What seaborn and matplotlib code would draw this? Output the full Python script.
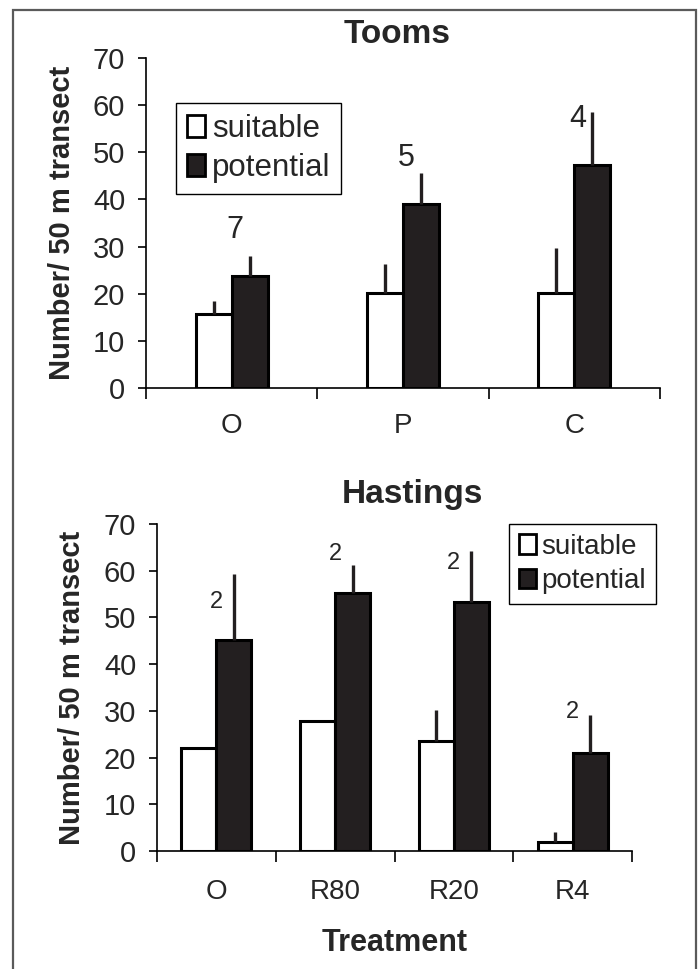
import matplotlib
matplotlib.use("Agg")
import matplotlib.pyplot as plt
import matplotlib.patches as mpatches
import seaborn as sns
import pandas as pd
import numpy as np

# ---- data ----
series = ["suitable", "potential"]

tooms_cats = ["O", "P", "C"]
tooms_suitable = [15.8, 20.1, 20.1]
tooms_suitable_err = [2.6, 6.3, 9.7]
tooms_potential = [23.7, 39.0, 47.4]
tooms_potential_err = [4.4, 6.6, 11.1]
tooms_n = ["7", "5", "4"]
tooms_n_y = [33.5, 48.8, 57.0]

hast_cats = ["O", "R80", "R20", "R4"]
hast_suitable = [22.0, 27.9, 23.6, 1.9]
hast_suitable_err = [0.0, 0.0, 6.6, 2.2]
hast_potential = [45.2, 55.2, 53.2, 21.0]
hast_potential_err = [14.0, 6.0, 11.0, 8.1]
hast_n = ["2", "2", "2", "2"]
hast_n_y = [53.3, 63.5, 61.6, 29.7]

yticks = [0, 10, 20, 30, 40, 50, 60, 70]
ylabel = "Number/ 50 m transect"
DARK = "#231f20"

sns.set_style("white")
plt.rcParams["font.family"] = ["Liberation Sans", "DejaVu Sans"]

fig = plt.figure(figsize=(7.0, 9.69), dpi=100)

# border
fig.patches.append(mpatches.Rectangle((13 / 700, -0.02), (696 - 13) / 700, 1.02 - 10 / 969,
                                      transform=fig.transFigure, fill=False,
                                      edgecolor="#5a5a5a", linewidth=1.6))


def panel(ax, cats, s, s_err, p, p_err, nlab, nly, nx_off, width, nsize, title, title_xy,
          leg_loc, leg_anchor, leg_size, ylab_x, xpad, xlab=None):
    df = pd.DataFrame({
        "cat": cats * 2,
        "series": [series[0]] * len(cats) + [series[1]] * len(cats),
        "val": s + p,
    })
    sns.barplot(data=df, x="cat", y="val", hue="series", order=cats, hue_order=series,
                palette={"suitable": "white", "potential": DARK}, edgecolor="black",
                linewidth=2.2, width=width, errorbar=None, saturation=1, ax=ax,
                legend=False)
    errs = [s_err, p_err]
    vals = [s, p]
    for k, cont in enumerate(ax.containers):
        for i, bar in enumerate(cont):
            if errs[k][i] > 0:
                xc = bar.get_x() + bar.get_width() / 2
                ax.vlines(xc, vals[k][i], vals[k][i] + errs[k][i], color=DARK,
                          linewidth=2.4, zorder=1)
    for i, t in enumerate(nlab):
        ax.text(i + nx_off, nly[i], t, ha="center", va="center", fontsize=nsize)
    ax.set_ylim(0, 70)
    ax.set_yticks(yticks)
    ax.set_xlim(-0.5, len(cats) - 0.5)
    ax.set_xticks(range(len(cats)))
    ax.set_xticklabels(cats)
    ax.set_xticks(np.arange(-0.5, len(cats), 1.0), minor=True)
    ax.tick_params(axis="x", which="major", length=0, labelsize=20, pad=xpad)
    ax.tick_params(axis="x", which="minor", length=8, width=1.2, direction="out",
                   bottom=True, color="black")
    ax.tick_params(axis="y", length=6, width=1.2, direction="out", left=True,
                   labelsize=21, pad=9, color="black")
    for sp in ["top", "right"]:
        ax.spines[sp].set_visible(False)
    for sp in ["left", "bottom"]:
        ax.spines[sp].set_color("black")
        ax.spines[sp].set_linewidth(1.2)
    ax.set_ylabel(ylabel, fontsize=21, fontweight="bold")
    ax.yaxis.set_label_coords(ylab_x, 0.5)
    if xlab:
        ax.set_xlabel(xlab, fontsize=22, fontweight="bold")
        ax.xaxis.set_label_coords(0.5, -0.235)
    else:
        ax.set_xlabel("")
    ax.text(title_xy[0], title_xy[1], title, transform=ax.transAxes, ha="center",
            va="center", fontsize=24, fontweight="bold")
    handles = [mpatches.Patch(facecolor="white", edgecolor="black", linewidth=2),
               mpatches.Patch(facecolor=DARK, edgecolor="black", linewidth=2)]
    leg = ax.legend(handles, series, loc=leg_loc, bbox_to_anchor=leg_anchor,
                    borderaxespad=0, frameon=True, fancybox=False, framealpha=1,
                    edgecolor="black", fontsize=leg_size, handlelength=0.6,
                    handleheight=0.7, handletextpad=0.2, borderpad=0.35,
                    labelspacing=0.3)
    leg.get_frame().set_linewidth(1.0)


ax1 = fig.add_axes([146 / 700, 1 - 388 / 969, (660 - 146) / 700, (388 - 58) / 969])
panel(ax1, tooms_cats, tooms_suitable, tooms_suitable_err, tooms_potential,
      tooms_potential_err, tooms_n, tooms_n_y, 0.02, 0.42, 22, "Tooms", (0.488, 1.07),
      "upper left", (0.058, 0.864), 22.5, -0.136, 18)

ax2 = fig.add_axes([157 / 700, 1 - 851 / 969, (632 - 157) / 700, (851 - 524) / 969])
panel(ax2, hast_cats, hast_suitable, hast_suitable_err, hast_potential,
      hast_potential_err, hast_n, hast_n_y, 0.0, 0.59, 17, "Hastings", (0.537, 1.089),
      "upper right", (1.05, 1.0), 20, -0.15, 20, xlab="Treatment")

fig.savefig("out.png", dpi=100)
